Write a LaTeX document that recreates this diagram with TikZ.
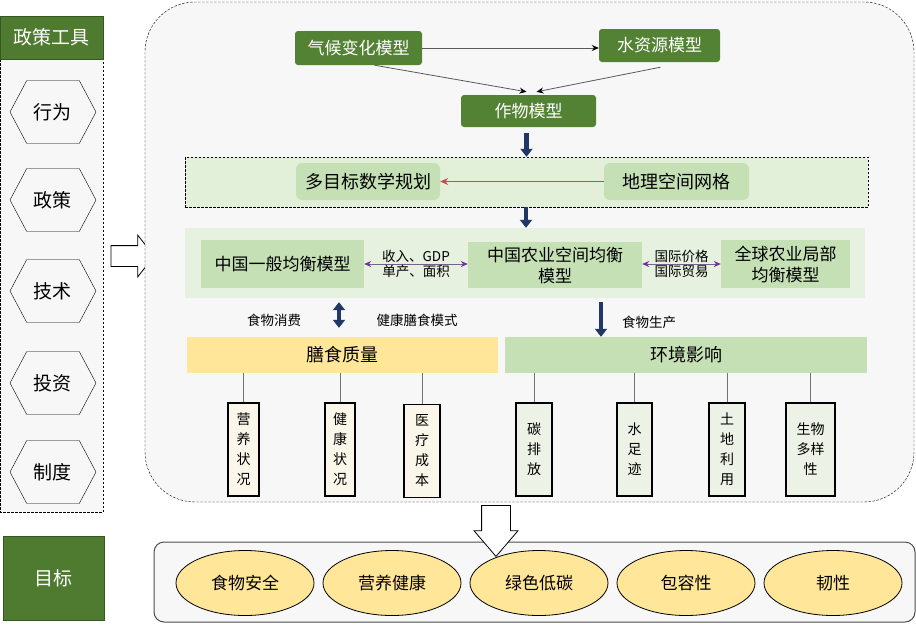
\documentclass[tikz,border=0pt]{standalone}
\usepackage{fontspec}
\setmainfont{Noto Sans CJK SC}
\usepackage{xcolor}
\usepackage{tikz}
\usetikzlibrary{arrows.meta,positioning,shapes.geometric,shapes.symbols,shapes.arrows}
\definecolor{hdrgreen}{HTML}{4F7B30}
\definecolor{modelgreen}{HTML}{548235}
\definecolor{panelgray}{HTML}{F7F7F7}
\definecolor{planbg}{HTML}{E2F0D9}
\definecolor{eqbg}{HTML}{E6F1DF}
\definecolor{boxgreen}{HTML}{C5E0B4}
\definecolor{dietyellow}{HTML}{FFE699}
\definecolor{creambox}{HTML}{FBF6EA}
\definecolor{sagebox}{HTML}{EDF2E6}
\definecolor{navy}{HTML}{1F3864}
\definecolor{arrowred}{HTML}{C0504D}
\definecolor{arrowpurple}{HTML}{7030A0}
\newcommand{\pxfont}[2]{\fontsize{#1}{#2}\selectfont}

\begin{document}
\begin{tikzpicture}[x=1pt, y=-1pt,
		finedash/.style={dash pattern=on 2.5pt off 1.5pt},
		hdrbox/.style={fill=hdrgreen, draw=hdrgreen!70!black, text=white, font=\pxfont{19}{22}},
		hexbox/.style={draw, shape=signal, signal to=east and west, signal pointer angle=124, minimum width=86, minimum height=63, inner sep=0pt, font=\pxfont{19}{22}},
		modelbox/.style={fill=modelgreen, text=white, rounded corners=3, font=\pxfont{17}{20}},
		gridbox/.style={fill=boxgreen, rounded corners=6, font=\pxfont{18}{21}},
		eqbox/.style={fill=boxgreen, align=center, inner sep=0pt, font=\pxfont{17}{21}},
		thinarrow/.style={draw=black!65, line width=0.8pt, -{Stealth[length=7pt,width=6pt,color=black]}},
		navyhead/.tip={Triangle[length=8pt,width=12pt]},
		navyarrow/.style={draw=navy, line width=4.5pt},
		tradearrow/.style={draw=arrowpurple!40!gray, line width=1pt, {Stealth[length=7pt,width=6pt,color=arrowpurple]}-{Stealth[length=7pt,width=6pt,color=arrowpurple]}},
		flowlabel/.style={inner sep=1pt, font=\pxfont{13.5}{15}},
		barbox/.style={minimum height=36, inner sep=0pt, font=\pxfont{18}{21}},
		tallbox/.style={draw, line width=1.3pt, minimum height=93, align=center, inner sep=0pt, font=\pxfont{14}{20}},
		stemline/.style={draw=black!55, line width=0.8pt},
		goal/.style={draw, line width=0.8pt, ellipse, fill=dietyellow, minimum width=138, minimum height=65, font=\pxfont{17}{20}},
		hollowarrow/.style={draw, fill=white, single arrow, line width=0.8pt}
	]
		\useasboundingbox (0,0) rectangle (916,625);
		
		% Policy tools
		\draw[finedash, fill=panelgray] (0,59) rectangle (103,512);
		\node[hdrbox, minimum width=103, minimum height=43] (tools) at (51.5,37.5) {政策工具};
		\foreach \n/\y/\t in {h1/112/行为, h2/200/政策, h3/291/技术, h4/383/投资, h5/472/制度} {
			\node[hexbox] (\n) at (53,\y) {\t};
		}
		\node[hollowarrow, minimum height=43, inner sep=10pt, single arrow head extend=10.5pt, single arrow tip angle=104] (toolarrow) at (128.5,256) {};
		
		% Model framework
		\draw[finedash, fill=panelgray, rounded corners=50] (145,2) rectangle (914,502);
		\node[modelbox, minimum width=127, minimum height=34] (climate) at (358.5,48) {气候变化模型};
		\node[modelbox, minimum width=121, minimum height=33] (water) at (659.5,45.5) {水资源模型};
		\node[modelbox, minimum width=135, minimum height=32] (crop) at (528.5,111) {作物模型};
		\draw[thinarrow] (climate.east) -- (climate.east -| water.west);
		\draw[thinarrow] ([xshift=16pt]climate.south) -- ([xshift=-2pt,yshift=3pt]crop.north);
		\draw[thinarrow] ([xshift=1pt,yshift=-5pt]water.south) -- ([xshift=8pt,yshift=3pt]crop.north);
		
		\node[draw, finedash, fill=planbg, minimum width=683, minimum height=50] (plan) at (526.5,182) {};
		\node[gridbox, minimum width=144, minimum height=37] (mop) at (368,181.5) {多目标数学规划};
		\node[gridbox, minimum width=145, minimum height=37] (grid) at (676.5,181.5) {地理空间网格};
		\draw[draw=arrowred, line width=1pt, -{Stealth[length=8pt,width=7pt]}] (grid.west) -- (mop.east);
		\draw[navyarrow, -navyhead] ([xshift=-2pt,yshift=-6pt]crop.south) -- ([xshift=-2pt]crop.south |- plan.north);
		
		\node[fill=eqbg, minimum width=680, minimum height=70] (eqpanel) at (525,263) {};
		\draw[navyarrow, -navyhead] ([xshift=-0.5pt]plan.south) -- ([xshift=-0.5pt]plan.south |- eqpanel.north);
		\node[eqbox, minimum width=163, minimum height=48] (cge) at (282.5,264) {中国一般均衡模型};
		\node[eqbox, minimum width=174, minimum height=46] (case) at (555,265) {中国农业空间均衡\\模型};
		\node[eqbox, minimum width=129, minimum height=48] (glob) at (785.5,264) {全球农业局部\\均衡模型};
		\draw[tradearrow] (cge.east) -- (cge.east -| case.west)
			node[flowlabel, midway, above] {收入、GDP}
			node[flowlabel, midway, below] {单产、面积};
		\draw[tradearrow] (case.east |- cge.east) -- (cge.east -| glob.west)
			node[flowlabel, midway, above] {国际价格}
			node[flowlabel, midway, below] {国际贸易};
		
		% Outcomes
		\node[barbox, fill=dietyellow, minimum width=311] (diet) at (342.5,355) {膳食质量};
		\node[barbox, fill=boxgreen, minimum width=362] (env) at (686,355) {环境影响};
		\draw[navyarrow, navyhead-navyhead] ([xshift=-3.5pt,yshift=-4pt]diet.north |- eqpanel.south) -- ([xshift=-3.5pt,yshift=9pt]diet.north);
		\draw[navyarrow, -navyhead] ([xshift=-85pt,yshift=-4pt]env.north |- eqpanel.south) -- ([xshift=-85pt]env.north);
		\node[flowlabel] (consume) at (274,320) {食物消费};
		\node[flowlabel] (healthy) at (417,320) {健康膳食模式};
		\node[flowlabel] (produce) at (649,322) {食物生产};
		
		\node[tallbox, fill=creambox, minimum width=31] (nut) at (243.5,449.5) {营\\养\\状\\况};
		\node[tallbox, fill=creambox, minimum width=30] (hlth) at (340,449.5) {健\\康\\状\\况};
		\node[tallbox, fill=creambox, minimum width=36] (cost) at (422,451) {医\\疗\\成\\本};
		\node[tallbox, fill=sagebox, minimum width=36] (carb) at (534,449.5) {碳\\排\\放};
		\node[tallbox, fill=sagebox, minimum width=35] (wfoot) at (634.5,449.5) {水\\足\\迹};
		\node[tallbox, fill=sagebox, minimum width=36] (land) at (727,449.5) {土\\地\\利\\用};
		\node[tallbox, fill=sagebox, minimum width=49] (bio) at (810.5,449.5) {生物\\多样\\性};
		\foreach \b in {nut, hlth, cost} {
			\draw[stemline] (diet.south -| \b.north) -- (\b.north);
		}
		\foreach \b in {carb, wfoot, land, bio} {
			\draw[stemline] (env.south -| \b.north) -- (\b.north);
		}
		
		% Goals
		\node[hdrbox, minimum width=101, minimum height=84] (target) at (53.5,578) {目标};
		\draw[draw=black!70, line width=1pt, fill=panelgray, rounded corners=10] (154,542) rectangle (915,622);
		\foreach \n/\x/\t in {g1/245/食物安全, g2/392/营养健康, g3/539/绿色低碳, g4/686/包容性, g5/833/韧性} {
			\node[goal] (\n) at (\x,583) {\t};
		}
		\node[hollowarrow, rotate=-90, minimum height=51, inner sep=14pt, single arrow head extend=7.5pt, single arrow tip angle=81] (goalarrow) at (496,522.5) {};
	\end{tikzpicture}
\end{document}
